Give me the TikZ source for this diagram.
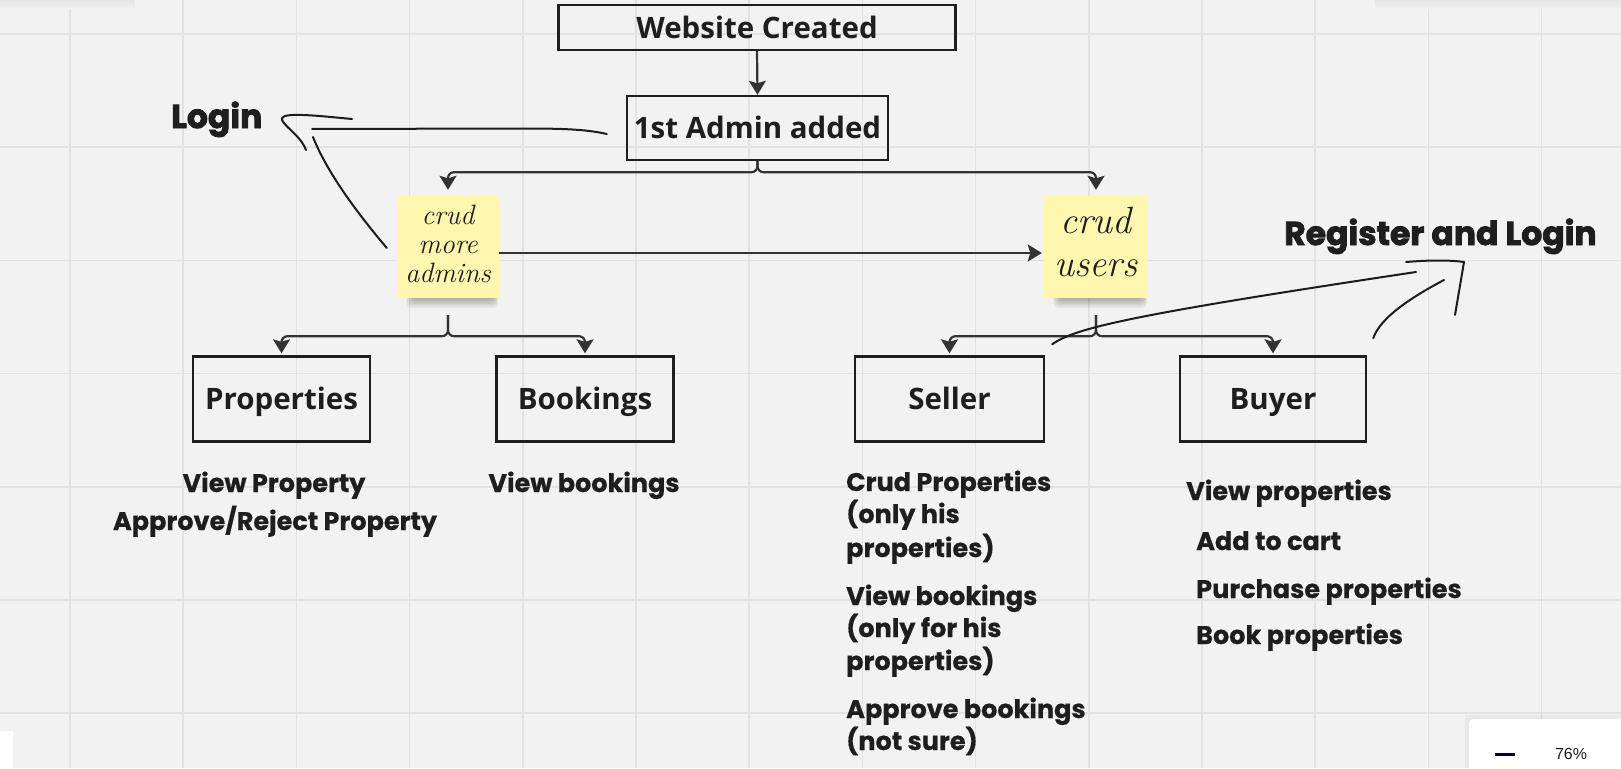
\documentclass[tikz,border=0pt]{standalone}
\usepackage{fontspec}
\usetikzlibrary{arrows.meta}
\newfontfamily\boxfont{Open Sans}
\newfontfamily\listfont[BoldFeatures={FakeBold=0.6}]{Poppins}
\newfontfamily\heavyfont[BoldFeatures={FakeBold=2.4}]{Poppins}
\newfontfamily\uifont{Liberation Sans}
\definecolor{bg}{HTML}{F2F2F2}
\definecolor{gridc}{HTML}{E2E2E2}
\definecolor{ink}{HTML}{333333}
\definecolor{hand}{HTML}{1C1C1C}
\definecolor{textc}{HTML}{1E1E1E}
\definecolor{stickyc}{HTML}{FFF7B0}
\definecolor{navy}{HTML}{050038}
\begin{document}
\begin{tikzpicture}[x=1pt,y=-1pt,
  box/.style={draw=textc, line width=2.4pt, inner sep=0pt, align=center, text=textc,
    text height=21pt, text depth=0pt,
    font={\boxfont\bfseries\fontsize{29.5}{32}\selectfont}},
  stickynote/.style={fill=stickyc, inner sep=0pt, align=center, text=textc},
  conn/.style={draw=ink, line width=2.2pt, rounded corners=6pt,
    -{Stealth[length=14pt,width=17pt,inset=2.5pt]}},
  handline/.style={draw=hand, line width=2pt, line cap=round, line join=round},
  listitem/.style={anchor=base west, inner sep=0pt, text=textc,
    font={\listfont\bfseries\fontsize{25.5}{33}\selectfont}},
  heavy/.style={anchor=base west, inner sep=0pt, text=textc,
    font={\heavyfont\bfseries\fontsize{33}{36}\selectfont}}]
\useasboundingbox (0,0) rectangle (1621,768);
\fill[bg] (0,0) rectangle (1621,768);
\foreach \i in {0,...,13} \draw[gridc, line width=1.6pt] ({70+113.2*\i},0) -- ({70+113.2*\i},768);
\foreach \j in {0,...,6} \draw[gridc, line width=1.6pt] (0,{34+113.2*\j}) -- (1621,{34+113.2*\j});
% top UI shadows
\shade[top color=black!10, bottom color=bg] (0,0) rectangle (135,9);
\shade[top color=black!10, bottom color=bg] (1375,0) rectangle (1621,9);

% sticky shadows
\foreach \k in {0,...,6} {
  \fill[black, opacity=0.045, rounded corners=5pt] ({406+\k},{284+\k*0.6}) rectangle ({498-\k*0.6},{308-\k*1.4});
  \fill[black, opacity=0.045, rounded corners=5pt] ({1053+\k},{284+\k*0.6}) rectangle ({1147-\k*0.6},{308-\k*1.4});
}

% boxes
\node[box, minimum width=397pt, minimum height=45pt] (web) at (757,27.5) {Website Created};
\node[box, minimum width=261pt, minimum height=64pt] (admin) at (757.5,128) {1st Admin added};
\node[stickynote, minimum width=102pt, minimum height=102pt, text depth=6pt,
  font={\itshape\fontsize{28}{29}\selectfont}] (sn1) at (448,247) {crud\\more\\admins};
\node[stickynote, minimum width=104pt, minimum height=102pt, text depth=10pt,
  font={\itshape\fontsize{38}{43}\selectfont}] (sn2) at (1096,247) {crud\\users};
\node[box, minimum width=177pt, minimum height=85pt] (prop) at (281.5,399) {Properties};
\node[box, minimum width=177pt, minimum height=85pt] (book) at (585,399) {Bookings};
\node[box, minimum width=189pt, minimum height=85pt] (seller) at (949.5,399) {Seller};
\node[box, minimum width=186pt, minimum height=85pt] (buyer) at (1273,399) {Buyer};

% connectors
\draw[conn] (web.south) -- (admin.north);
\draw[conn, shorten >=6pt] (admin.south) -- ++(0,11) -| (sn1.north);
\draw[conn, shorten >=6pt] (admin.south) -- ++(0,11) -| (sn2.north);
\draw[conn, shorten >=2pt] ([yshift=-6pt]sn1.east) -- ([yshift=-6pt]sn2.west);
\draw[conn, shorten <=17pt, shorten >=2pt] (sn1.south) -- ++(0,38) -| (prop.north);
\draw[conn, shorten <=17pt, shorten >=2pt] (sn1.south) -- ++(0,38) -| (book.north);
\draw[conn, shorten <=17pt, shorten >=2pt] (sn2.south) -- ++(0,38) -| (seller.north);
\draw[conn, shorten <=17pt, shorten >=2pt] (sn2.south) -- ++(0,38) -| (buyer.north);

% Login annotation
\node[heavy] (login) at (171,128) {Login};
\coordinate (lg1) at (312,129);
\coordinate (lg2) at (313,137);
\coordinate (lgA) at (352,119);
\coordinate (lgB) at (306,150);
\draw[handline] ([xshift=-19pt,yshift=-6pt]admin.west) .. controls (585,129) and (560,128.5) .. (520,128.5) -- (lg1);
\draw[handline] ([xshift=-10pt,yshift=-1pt]sn1.west) .. controls (370,228) and (330,180) .. (lg2);
\draw[handline] (lgA) .. controls (320,116) and (285,112) .. (282,118) .. controls (280,124) and (300,134) .. (lgB);

% Register and Login annotation
\node[heavy] (reg) at (1284,245) {Register and Login};
\coordinate (rg1) at (1416,272);
\coordinate (rgA) at (1406,262);
\coordinate (rgB) at (1455,315);
\coordinate (rg2) at (1444,280);
\draw[handline] ([xshift=7pt,yshift=11pt]seller.north east) .. controls (1075,328) and (1130,315) .. (rg1);
\draw[handline] (rgA) .. controls (1430,260) and (1450,260) .. (1464,262) -- (rgB);
\draw[handline] ([xshift=6pt,yshift=17pt]buyer.north east) .. controls (1380,318) and (1410,298) .. (rg2);

% lists
\node[listitem, anchor=base] (p1) at (274,492) {View Property};
\node[listitem, anchor=base] (p2) at (275,530) {Approve/Reject Property};
\node[listitem, anchor=base] (k1) at (584,492) {View bookings};
\node[listitem] (s1) at (846,491) {Crud Properties};
\node[listitem] (s2) at (846,523) {(only his};
\node[listitem] (s3) at (846,557) {properties)};
\node[listitem] (s4) at (846,605) {View bookings};
\node[listitem] (s5) at (846,637) {(only for his};
\node[listitem] (s6) at (846,670) {properties)};
\node[listitem] (s7) at (846,718) {Approve bookings};
\node[listitem] (s8) at (846,750) {(not sure)};
\node[listitem] (b1) at (1186,500) {View properties};
\node[listitem] (b2) at (1196,550) {Add to cart};
\node[listitem] (b3) at (1196,598) {Purchase properties};
\node[listitem] (b4) at (1196,644) {Book properties};

% UI widgets
\fill[white] (0,731) rectangle (13,768);
\fill[black, opacity=0.04] (1465,715) rectangle (1621,768);
\fill[white, rounded corners=4pt] (1469,719) rectangle (1640,790);
\draw[navy, line width=3pt] (1495,754) -- (1515,754);
\node[inner sep=0pt, text=textc, font={\uifont\fontsize{16}{18}\selectfont}] (zoomtxt) at (1571,754) {76\%};
\end{tikzpicture}
\end{document}
